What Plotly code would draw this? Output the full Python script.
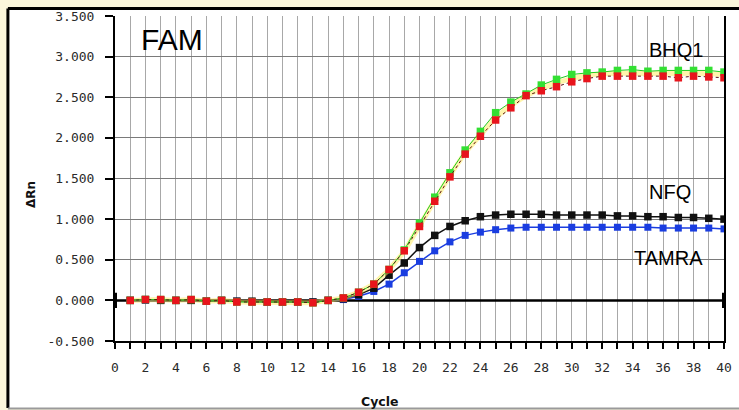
import plotly.graph_objects as go

cycles = list(range(1, 41))

bhq1_red = [0.00, 0.01, 0.01, 0.00, 0.01, -0.01, 0.00, -0.02, -0.02, -0.02,
            -0.02, -0.02, -0.03, 0.00, 0.03, 0.10, 0.20, 0.38, 0.61, 0.91,
            1.22, 1.52, 1.80, 2.02, 2.22, 2.37, 2.52, 2.58, 2.63, 2.69,
            2.73, 2.76, 2.76, 2.76, 2.76, 2.76, 2.74, 2.76, 2.75, 2.74]
bhq1_green = [0.00, 0.01, 0.01, 0.00, 0.01, -0.01, 0.00, -0.02, -0.02, -0.02,
              -0.02, -0.02, -0.03, 0.00, 0.03, 0.10, 0.20, 0.38, 0.62, 0.95,
              1.27, 1.57, 1.85, 2.08, 2.31, 2.44, 2.54, 2.65, 2.72, 2.78,
              2.80, 2.81, 2.83, 2.84, 2.82, 2.83, 2.83, 2.83, 2.83, 2.81]
bhq1_yellow = [0.00, 0.01, 0.01, 0.00, 0.01, -0.01, 0.00, -0.02, -0.02, -0.02,
               -0.02, -0.02, -0.03, 0.00, 0.03, 0.10, 0.20, 0.38, 0.60, 0.92,
               1.24, 1.54, 1.82, 2.04, 2.25, 2.40, 2.52, 2.61, 2.68, 2.73,
               2.77, 2.79, 2.80, 2.80, 2.79, 2.80, 2.79, 2.80, 2.79, 2.78]
nfq_black = [0.00, 0.01, 0.00, 0.00, 0.00, -0.01, 0.00, -0.01, -0.01, -0.02,
             -0.02, -0.02, -0.02, 0.00, 0.02, 0.07, 0.15, 0.31, 0.46, 0.65,
             0.80, 0.91, 0.98, 1.03, 1.05, 1.06, 1.06, 1.06, 1.05, 1.05,
             1.05, 1.05, 1.04, 1.04, 1.03, 1.03, 1.02, 1.02, 1.01, 1.00]
tamra_blue = [0.00, 0.00, 0.00, 0.00, 0.00, -0.01, 0.00, -0.01, -0.02, -0.02,
              -0.02, -0.02, -0.02, 0.00, 0.01, 0.05, 0.11, 0.20, 0.34, 0.48,
              0.61, 0.72, 0.80, 0.84, 0.87, 0.89, 0.90, 0.90, 0.90, 0.90,
              0.90, 0.90, 0.90, 0.90, 0.90, 0.89, 0.89, 0.89, 0.89, 0.88]

x_ticks = list(range(0, 41))
x_ticktext = [str(v) if v % 2 == 0 else "" for v in x_ticks]
y_ticks = [-0.5, 0.0, 0.5, 1.0, 1.5, 2.0, 2.5, 3.0, 3.5]
y_ticktext = ["-0.500", "0.000", "0.500", "1.000", "1.500", "2.000", "2.500", "3.000", "3.500"]
baseline_x = [0, 40]
baseline_y = [0, 0]

W, H = 739, 410
L, R, T, B = 115, 7, 16, 69
PW, PH = W - L - R, H - T - B


def px(x):
    return (x - L) / PW


def py(y):
    return (H - B - y) / PH


fig = go.Figure()

fig.add_trace(go.Scatter(x=baseline_x, y=baseline_y, mode="lines+markers",
                         line=dict(color="black", width=2.5),
                         marker=dict(symbol="line-ns", size=11,
                                     line=dict(color="black", width=4)),
                         hoverinfo="skip"))
fig.add_trace(go.Scatter(x=cycles, y=tamra_blue, mode="lines+markers", name="TAMRA",
                         line=dict(color="#1a3de0", width=1.5),
                         marker=dict(symbol="square", size=7, color="#1a3de0")))
fig.add_trace(go.Scatter(x=cycles, y=nfq_black, mode="lines+markers", name="NFQ",
                         line=dict(color="#111111", width=1.5),
                         marker=dict(symbol="square", size=7.5, color="#111111")))
fig.add_trace(go.Scatter(x=cycles, y=bhq1_yellow, mode="lines", name="BHQ1 y",
                         line=dict(color="rgba(255,236,90,0.5)", width=5)))
fig.add_trace(go.Scatter(x=cycles, y=bhq1_green, mode="lines+markers", name="BHQ1 g",
                         line=dict(color="#22cc22", width=1),
                         marker=dict(symbol="square", size=7.5, color="#33e033")))
fig.add_trace(go.Scatter(x=cycles, y=bhq1_red, mode="lines+markers", name="BHQ1 r",
                         line=dict(color="#5a1010", width=1, dash="dot"),
                         marker=dict(symbol="square", size=7.5, color="#e8141c")))

tick_font = dict(family="DejaVu Sans Mono", size=13, color="#2a2a2a")

fig.update_xaxes(range=[0, 40], tickvals=x_ticks, ticktext=x_ticktext,
                 showgrid=True, gridcolor="#a8a8a8", gridwidth=1,
                 showline=True, linecolor="black", linewidth=2,
                 ticks="outside", ticklen=6, tickcolor="black", tickwidth=1.5,
                 ticklabelstandoff=7,
                 tickfont=tick_font, zeroline=False, fixedrange=True)
fig.update_yaxes(range=[-0.5, 3.5], tickvals=y_ticks, ticktext=y_ticktext,
                 showgrid=True, gridcolor="#7a7a7a", gridwidth=1,
                 showline=True, linecolor="black", linewidth=2, mirror=True,
                 ticks="outside", ticklen=8, tickcolor="black", tickwidth=1.5,
                 ticklabelstandoff=8,
                 tickfont=tick_font, zeroline=False, fixedrange=True)

shapes = [
    dict(type="rect", xref="paper", yref="paper", x0=px(6.5), x1=px(760),
         y0=py(408), y1=py(8.5), fillcolor="white", line=dict(width=0), layer="below"),
    dict(type="line", xref="paper", yref="paper", x0=px(6.5), x1=px(760),
         y0=py(8.5), y1=py(8.5), line=dict(color="black", width=3)),
    dict(type="line", xref="paper", yref="paper", x0=px(6.5), x1=px(6.5),
         y0=py(8.5), y1=py(408), line=dict(color="black", width=3)),
    dict(type="line", xref="paper", yref="paper", x0=px(6.5), x1=px(760),
         y0=py(408.5), y1=py(408.5), line=dict(color="#9a9a9a", width=2)),
]

labels = [
    ("FAM", 173, 39, 30),
    ("BHQ1", 683, 50, 20),
    ("NFQ", 677, 192, 20),
    ("TAMRA", 676, 258, 20),
]
annotations = []
for text, x, y, s in labels:
    annotations.append(dict(text=text, xref="paper", yref="paper", x=px(x), y=py(y),
                            xanchor="center", yanchor="middle", showarrow=False,
                            font=dict(family="Liberation Sans", size=s, color="black")))
annotations.append(dict(text="<b>Cycle</b>", xref="paper", yref="paper", x=px(383), y=py(402),
                        xanchor="center", yanchor="middle", showarrow=False,
                        font=dict(family="DejaVu Sans", size=12.5, color="#111111")))
annotations.append(dict(text="<b>ΔRn</b>", xref="paper", yref="paper", x=px(30), y=py(195),
                        xanchor="center", yanchor="middle", showarrow=False, textangle=-90,
                        font=dict(family="DejaVu Sans", size=12, color="#111111")))

fig.update_layout(width=W, height=H, margin=dict(l=L, r=R, t=T, b=B, pad=0),
                  paper_bgcolor="#fbf6dc", plot_bgcolor="white",
                  showlegend=False, shapes=shapes, annotations=annotations)

fig.write_html("out.html")
